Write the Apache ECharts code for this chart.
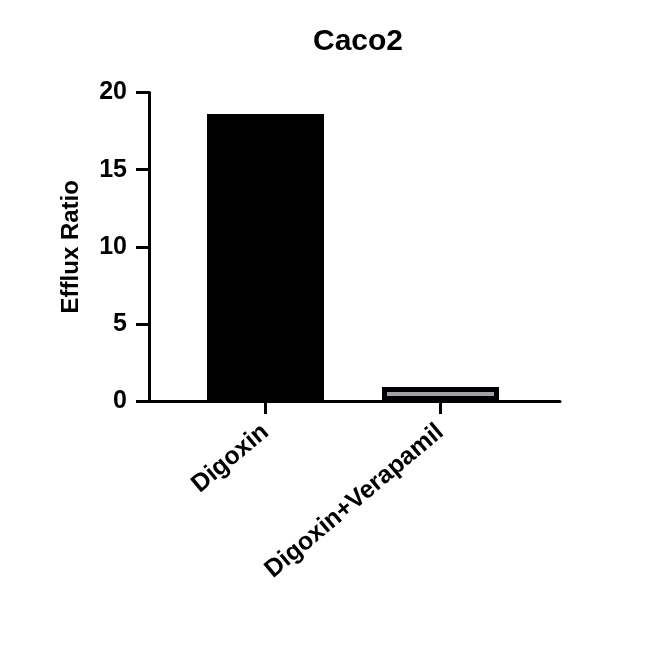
<!DOCTYPE html>
<html>
<head>
<meta charset="utf-8">
<script src="https://cdn.jsdelivr.net/npm/echarts@6/dist/echarts.min.js"></script>
<style>html,body{margin:0;padding:0;background:#fff}#c{width:655px;height:653px}</style>
</head>
<body>
<div id="c"></div>
<script>
const categories = ['Digoxin', 'Digoxin+Verapamil'];
const values = [18.6, 0.9];
const barColors = ['#000000', '#a0a0a8'];
const yTicks = [0, 5, 10, 15, 20];
const titleText = 'Caco2';
const yName = 'Efflux Ratio';

const FONT = '"Liberation Sans", Arial, sans-serif';
const chart = echarts.init(document.getElementById('c'), null, {renderer: 'canvas'});
chart.setOption({
  backgroundColor: '#ffffff',
  animation: false,
  title: {
    text: titleText, left: 353, top: 22, textAlign: 'center',
    textStyle: {fontFamily: FONT, fontWeight: 'bold', fontSize: 30, color: '#000'}
  },
  grid: [
    {left: 178, right: 127, top: 92.5, bottom: 252},
    {left: 149, right: 95, top: 92.5, bottom: 252}
  ],
  xAxis: [
    {
      type: 'category', data: categories, gridIndex: 0,
      axisLine: {show: false},
      axisTick: {show: true, alignWithLabel: true, length: 13, lineStyle: {width: 3, color: '#000'}},
      axisLabel: {rotate: 40, margin: 28, color: '#000', fontFamily: FONT, fontWeight: 'bold', fontSize: 25, interval: 0}
    },
    {
      type: 'value', gridIndex: 1, min: 0, max: 1,
      axisLine: {show: true, lineStyle: {width: 3, color: '#000'}},
      axisTick: {show: false}, axisLabel: {show: false}, splitLine: {show: false}
    }
  ],
  yAxis: [
    {
      type: 'value', gridIndex: 0, min: yTicks[0], max: yTicks[yTicks.length - 1], interval: yTicks[1] - yTicks[0],
      offset: 29,
      name: yName, nameLocation: 'middle', nameGap: 66, nameRotate: 90,
      nameTextStyle: {fontFamily: FONT, fontWeight: 'bold', fontSize: 24, color: '#000'},
      axisLine: {show: true, lineStyle: {width: 3, color: '#000'}},
      axisTick: {show: true, length: 13, lineStyle: {width: 3, color: '#000'}},
      axisLabel: {margin: 22, color: '#000', fontFamily: FONT, fontWeight: 'bold', fontSize: 25},
      splitLine: {show: false}
    },
    {
      type: 'value', gridIndex: 1, show: false, min: 0, max: 1
    }
  ],
  series: [{
    type: 'bar', xAxisIndex: 0, yAxisIndex: 0,
    barWidth: 117,
    data: values.map((v, i) => ({
      value: v,
      itemStyle: {color: barColors[i], borderColor: '#000', borderWidth: 5}
    }))
  }]
});
</script>
</body>
</html>
